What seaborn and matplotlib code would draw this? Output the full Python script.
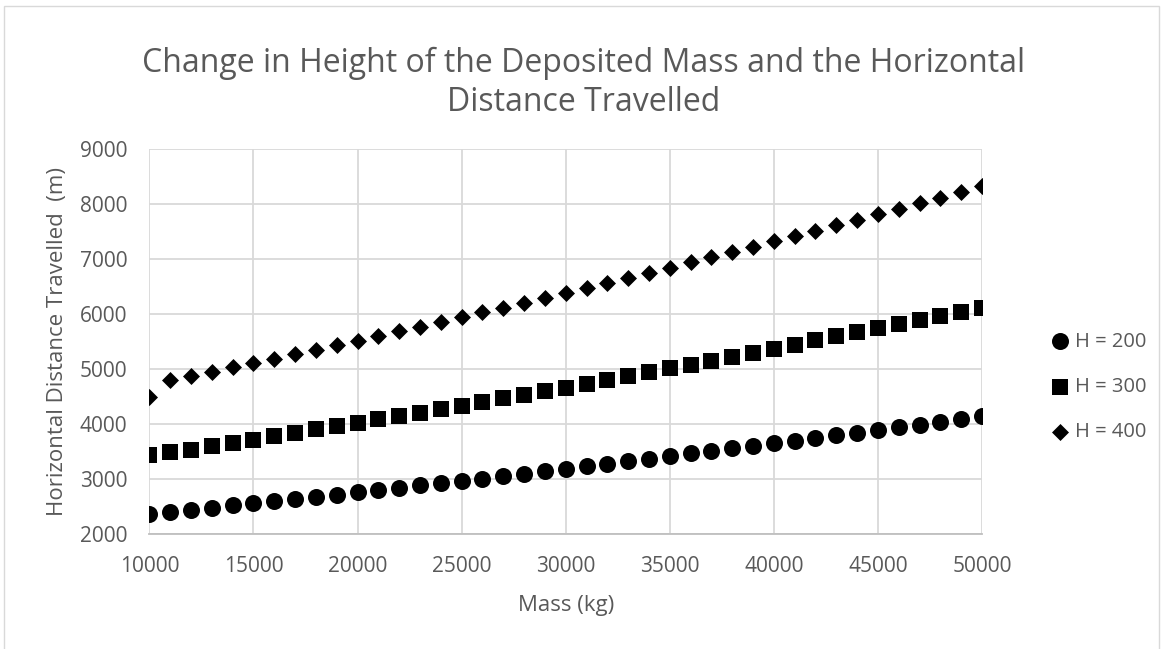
import numpy as np
import pandas as pd
import matplotlib
matplotlib.use("Agg")
import matplotlib.pyplot as plt
import seaborn as sns
from matplotlib.patches import Rectangle

mass = list(range(10000, 50001, 1000))
h200 = [2358, 2394, 2437, 2473, 2516, 2552, 2594, 2631, 2673, 2710, 2752, 2794, 2837, 2879,
        2916, 2958, 3000, 3043, 3092, 3135, 3177, 3226, 3274, 3323, 3365, 3414, 3463, 3505,
        3554, 3603, 3645, 3693, 3742, 3790, 3839, 3888, 3936, 3985, 4040, 4088, 4137]
h300 = [3426, 3481, 3530, 3590, 3651, 3712, 3773, 3833, 3900, 3961, 4021, 4082, 4149, 4203,
        4270, 4331, 4398, 4464, 4525, 4592, 4659, 4732, 4798, 4865, 4938, 5011, 5078, 5151,
        5217, 5296, 5369, 5442, 5521, 5594, 5667, 5740, 5819, 5891, 5970, 6043, 6116]
h400 = [4495, 4798, 4871, 4950, 5029, 5108, 5187, 5266, 5345, 5430, 5515, 5600, 5685, 5770,
        5855, 5940, 6031, 6116, 6207, 6292, 6383, 6474, 6565, 6662, 6753, 6845, 6942, 7039,
        7130, 7227, 7324, 7421, 7518, 7616, 7713, 7816, 7919, 8016, 8120, 8223, 8326]
series_labels = ["H = 200", "H = 300", "H = 400"]
x_ticks = [10000, 15000, 20000, 25000, 30000, 35000, 40000, 45000, 50000]
y_ticks = [2000, 3000, 4000, 5000, 6000, 7000, 8000, 9000]

sns.set_theme(style="white")
plt.rcParams['font.family'] = ['Open Sans', 'DejaVu Sans']

TXT = "#595959"
GRID = "#d9d9d9"

fig = plt.figure(figsize=(11.67, 6.49), dpi=100)
ax = fig.add_axes([0.128, 0.1777, 0.7135, 0.5923])

fig.patches.append(Rectangle((0.003, -0.01), 0.99, 1.0, transform=fig.transFigure,
                             fill=False, edgecolor=GRID, linewidth=1.0))

markers = ["o", "s", "D"]
sizes = [150, 130, 75]
for vals, lab, mk, sz in zip([h200, h300, h400], series_labels, markers, sizes):
    df = pd.DataFrame({"Mass": mass, "Dist": vals})
    sns.scatterplot(data=df, x="Mass", y="Dist", ax=ax, marker=mk, s=sz,
                    color="black", edgecolor="black", linewidth=0, label=lab, zorder=3)

ax.set_xlim(10000, 50000)
ax.set_ylim(2000, 9000)
ax.set_xticks(x_ticks)
ax.set_yticks(y_ticks)
ax.grid(True, color=GRID, linewidth=1.3)
ax.set_axisbelow(True)
for s in ["top", "right", "left"]:
    ax.spines[s].set_visible(False)
ax.spines["bottom"].set_color("#bfbfbf")
ax.spines["bottom"].set_linewidth(1.3)
ax.tick_params(axis="x", colors=TXT, labelsize=15, length=0, pad=16)
ax.tick_params(axis="y", colors=TXT, labelsize=15, length=0, pad=16)

ax.set_xlabel("Mass (kg)", fontsize=16, color=TXT, labelpad=13)
ax.set_ylabel("Horizontal Distance Travelled  (m)", fontsize=16, color=TXT, labelpad=8)

fig.text(0.5, 0.872, "Change in Height of the Deposited Mass and the Horizontal\nDistance Travelled",
         ha="center", va="center", fontsize=23, color=TXT, linespacing=1.25)

leg = ax.legend(loc="center left", bbox_to_anchor=(1.072, 0.382), frameon=False,
                fontsize=14.5, handletextpad=0.25, labelspacing=1.25, handlelength=1.0,
                borderaxespad=0)
for t in leg.get_texts():
    t.set_color(TXT)

fig.savefig("out.png", dpi=100)
